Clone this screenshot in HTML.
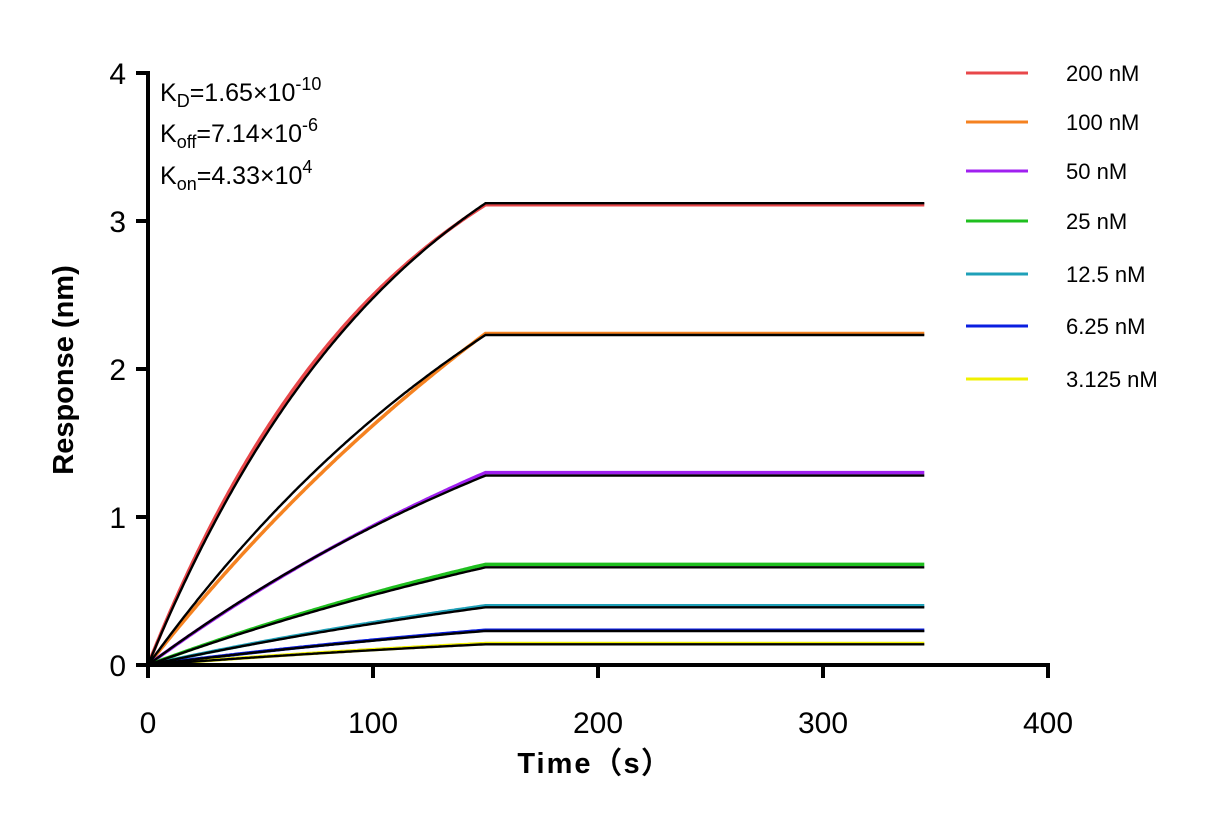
<!DOCTYPE html>
<html><head><meta charset="utf-8"><style>
body{margin:0;background:#fff}
svg{display:block;font-family:"Liberation Sans",Arial,sans-serif}
</style></head><body>
<svg width="1211" height="825" viewBox="0 0 1211 825">
<g id="plot"></g>
<g id="axes"></g>
<g font-size="25" fill="#000">
<text x="160" y="101">K<tspan font-size="18" dy="6">D</tspan><tspan dy="-6">=1.65×10</tspan><tspan font-size="18" dy="-11">-10</tspan></text>
<text x="160" y="142">K<tspan font-size="18" dy="6">off</tspan><tspan dy="-6">=7.14×10</tspan><tspan font-size="18" dy="-11">-6</tspan></text>
<text x="160" y="184">K<tspan font-size="18" dy="6">on</tspan><tspan dy="-6">=4.33×10</tspan><tspan font-size="18" dy="-11">4</tspan></text>
</g>
<text transform="translate(73,370) rotate(-90)" text-anchor="middle" font-size="29" font-weight="bold">Response (nm)</text>
<text x="595" y="773" text-anchor="middle" font-size="29" font-weight="bold" letter-spacing="2">Time（s）</text>
<g id="legend"></g>
</svg>
<script>
const seriesLabels=["200 nM","100 nM","50 nM","25 nM","12.5 nM","6.25 nM","3.125 nM"];
const seriesColors=["#e8474a","#f58220","#a020f0","#1fbf1f","#1fa0b8","#0a1ee0","#f0f000"];
const plateauFit=[3.12,2.23,1.28,0.66,0.39,0.23,0.14];
const plateauData=[3.11,2.24,1.30,0.68,0.40,0.235,0.145];
const kFit=[0.0085,0.005,0.004,0.003,0.003,0.003,0.003];
const kData=[0.0092,0.0035,0.0035,0.003,0.003,0.003,0.003];
const xTicks=[0,100,200,300,400];
const yTicks=[0,1,2,3,4];
const tAssocEnd=150, tEnd=345;
const NS="http://www.w3.org/2000/svg";
const X=t=>148+t*2.25, Y=v=>665-v*148;
function curve(P,k){let d="";for(let t=0;t<=tEnd;t+=1){const tt=Math.min(t,tAssocEnd);const v=P*(1-Math.exp(-k*tt))/(1-Math.exp(-k*tAssocEnd));d+=(t?"L":"M")+X(t).toFixed(1)+","+Y(v).toFixed(1);}return d;}
const plot=document.getElementById("plot");
seriesLabels.forEach((s,i)=>{
 const p=document.createElementNS(NS,"path");
 p.setAttribute("d",curve(plateauData[i],kData[i]));
 p.setAttribute("stroke",seriesColors[i]);p.setAttribute("stroke-width","3.5");p.setAttribute("fill","none");
 
 
 plot.appendChild(p);
});
seriesLabels.forEach((s,i)=>{
 const p=document.createElementNS(NS,"path");
 p.setAttribute("d",curve(plateauFit[i],kFit[i]));
 p.setAttribute("stroke","#000");p.setAttribute("stroke-width","2.4");p.setAttribute("fill","none");
 
 
 plot.appendChild(p);
});
const axes=document.getElementById("axes");
function line(x1,y1,x2,y2,w,name){const l=document.createElementNS(NS,"line");l.setAttribute("x1",x1);l.setAttribute("y1",y1);l.setAttribute("x2",x2);l.setAttribute("y2",y2);l.setAttribute("stroke","#000");l.setAttribute("stroke-width",w);
 
 
 axes.appendChild(l);}
function text(x,y,s,anchor,size,name,parent){const t=document.createElementNS(NS,"text");t.setAttribute("x",x);t.setAttribute("y",y);t.setAttribute("text-anchor",anchor);t.setAttribute("font-size",size);t.textContent=s;
 
 
 parent.appendChild(t);}
line(148,71,148,667,4,"y-axis-line");
line(146,665,1050,665,4,"x-axis-line");
yTicks.forEach(v=>{line(136,Y(v),148,Y(v),4,"y-tick");text(126,Y(v)+11,String(v),"end",30,"y-tick-label",axes);});
xTicks.forEach(v=>{line(X(v),665,X(v),678,4,"x-tick");text(X(v),733,String(v),"middle",30,"x-tick-label",axes);});
const legend=document.getElementById("legend");
const legY=[73,122,171,221,274,326,379];
seriesLabels.forEach((s,i)=>{
 const l=document.createElementNS(NS,"line");
 l.setAttribute("x1",966);l.setAttribute("x2",1028);l.setAttribute("y1",legY[i]);l.setAttribute("y2",legY[i]);
 l.setAttribute("stroke",seriesColors[i]);l.setAttribute("stroke-width","3");
 
 
 legend.appendChild(l);
 text(1066,legY[i]+8,s,"start",22,"legend-label",legend);
});
</script>
</body></html>
